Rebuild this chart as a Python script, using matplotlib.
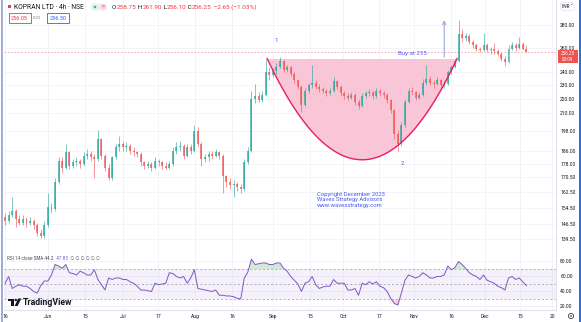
import numpy as np
import matplotlib.pyplot as plt
from matplotlib.patches import Rectangle, Polygon, Circle, FancyBboxPatch
from matplotlib.ticker import NullLocator

plt.rcParams['font.family'] = ['Roboto', 'DejaVu Sans']

# KOPRAN LTD, one bar per session, mid May -> mid Dec 2023
open_ = [150, 148, 151, 153, 149, 147, 149, 147, 148, 146,
         142, 141, 146, 155, 154, 168, 180, 176, 185, 177,
         179, 180, 178, 183, 184, 182, 181, 193, 183, 176,
         170, 182, 188, 190, 188, 189, 186, 185, 184, 179,
         177, 178, 176, 180, 179, 177, 176, 178, 186, 188,
         189, 183, 188, 186, 198, 190, 181, 182, 184, 183,
         185, 183, 171, 168, 166, 167, 165, 164, 179, 186,
         220, 222, 219, 223, 240, 238, 241, 244, 249, 242,
         244, 239, 234, 229, 216, 226, 230, 232, 229, 227,
         226, 224, 226, 233, 229, 224, 222, 221, 223, 218,
         215, 222, 224, 225, 222, 226, 224, 223, 219, 212,
         196, 190, 202, 218, 226, 225, 221, 223, 232, 235,
         232, 231, 234, 230, 231, 240, 244, 249, 272, 268,
         270, 265, 262, 259, 258, 262, 258, 259, 257, 255,
         251, 248, 259, 262, 260, 263, 258.75]
high = [152, 153, 160, 154, 151, 151, 150, 150, 149, 147,
        144, 148, 162, 157, 170, 182, 182, 190, 186, 181,
        182, 181, 185, 187, 186, 184, 199, 194, 184, 178,
        183, 190, 195, 192, 191, 190, 188, 186, 185, 180,
        180, 179, 182, 181, 180, 179, 180, 188, 191, 192,
        190, 190, 190, 202, 201, 191, 184, 186, 186, 187,
        186, 184, 172, 170, 169, 168, 167, 181, 188, 226,
        231, 225, 226, 251, 244, 243, 247, 252, 250, 246,
        245, 240, 235, 230, 228, 232, 246, 234, 231, 229,
        227, 228, 236, 234, 230, 226, 224, 225, 224, 220,
        224, 226, 227, 226, 228, 227, 226, 224, 220, 213,
        199, 204, 220, 228, 229, 226, 225, 235, 246, 237,
        234, 236, 235, 233, 242, 246, 251, 285, 276, 273,
        272, 267, 264, 261, 273, 264, 261, 264, 259, 256,
        253, 262, 265, 264, 269, 265, 261.90]
low = [146, 147, 150, 145, 146, 146, 145, 146, 144, 141,
       140, 140, 145, 152, 153, 167, 173, 175, 175, 176,
       177, 176, 177, 181, 180, 170, 180, 181, 174, 169,
       169, 181, 186, 186, 186, 184, 183, 182, 177, 175,
       176, 174, 175, 177, 175, 175, 175, 177, 184, 186,
       181, 182, 184, 185, 188, 177, 179, 180, 181, 182,
       181, 162, 165, 164, 160, 163, 162, 163, 178, 185,
       217, 218, 218, 222, 234, 236, 239, 243, 240, 240,
       237, 232, 227, 211, 215, 224, 228, 227, 225, 224,
       222, 223, 225, 227, 222, 220, 219, 220, 216, 213,
       214, 221, 222, 220, 221, 222, 221, 217, 210, 193,
       186, 189, 201, 217, 223, 219, 220, 222, 230, 230,
       228, 230, 228, 228, 230, 239, 243, 248, 265, 266,
       263, 260, 257, 256, 257, 256, 255, 255, 253, 249,
       245, 247, 258, 257, 259, 258, 256.10]
close = [148, 151, 153, 149, 147, 149, 147, 148, 146, 142,
         141, 146, 155, 154, 168, 180, 176, 185, 177, 179,
         180, 178, 183, 184, 182, 181, 193, 183, 176, 170,
         182, 188, 190, 188, 189, 186, 185, 184, 179, 177,
         178, 176, 180, 179, 177, 176, 178, 186, 188, 189,
         183, 188, 186, 198, 190, 181, 182, 184, 183, 185,
         183, 171, 168, 166, 167, 165, 164, 179, 186, 220,
         222, 219, 223, 240, 238, 241, 244, 249, 242, 244,
         239, 234, 229, 216, 226, 230, 232, 229, 227, 226,
         224, 226, 233, 229, 224, 222, 221, 223, 218, 215,
         222, 224, 225, 222, 226, 224, 223, 219, 212, 196,
         190, 202, 218, 226, 225, 221, 223, 232, 235, 232,
         231, 234, 230, 231, 240, 244, 249, 272, 268, 270,
         265, 262, 259, 258, 262, 258, 259, 257, 255, 251,
         248, 259, 262, 260, 263, 258.90, 256.25]
rsi = [51, 60, 44, 47, 49, 47, 47, 44, 40, 38,
       48, 54, 54, 62, 76, 74, 71, 76, 65, 64,
       62, 67, 65, 62, 62, 69, 56, 49, 42, 58,
       56, 58, 58, 56, 56, 53, 51, 47, 42, 42,
       41, 40, 51, 49, 50, 51, 65, 64, 60, 58,
       60, 51, 58, 69, 44, 43, 42, 41, 40, 42,
       35, 35, 34, 34, 33, 31, 30, 58, 66, 83,
       76, 77, 78, 78, 76, 76, 78, 78, 71, 67,
       60, 55, 50, 40, 51, 53, 60, 49, 44, 46,
       47, 47, 56, 51, 51, 51, 42, 42, 44, 35,
       51, 49, 53, 50, 53, 47, 45, 40, 31, 24,
       22, 38, 55, 62, 60, 58, 60, 65, 62, 58,
       58, 60, 60, 62, 74, 69, 72, 80, 76, 71,
       65, 62, 60, 56, 62, 55, 53, 51, 47, 45,
       42, 58, 60, 56, 58, 53, 47.83]

price_ticks = [280, 260, 240, 230, 220, 210, 198, 186, 178, 170.5, 162.5, 154.5, 146.5, 139.5]
rsi_ticks = [80, 60, 40, 20]
date_ticks = [0, 12, 22.4, 33.1, 42.9, 53.2, 63.6, 75.1, 85.4, 94.7, 104.8, 114.6, 124.9, 134.5, 144.3, 153.3]
date_labels = ['16', 'Jun', '15', 'Jul', '17', 'Aug', '16', 'Sep', '15', 'Oct', '17', 'Nov', '16', 'Dec', '15', '20']

last_price = 256.25
cup_left = (73.4, 251.0)
cup_bottom = (100.0, 180.5)
cup_right = (126.6, 251.0)
buy_price = 255
arrow_x, arrow_from, arrow_to = 123, 250, 287

UP, DOWN = '#26a69a', '#ef5350'
W, H = 581, 322

fig = plt.figure(figsize=(W / 100, H / 100), dpi=100)
ax = fig.add_axes([4 / W, 1 - 251 / H, 552 / W, 251 / H])
rax = fig.add_axes([4 / W, 1 - 310 / H, 552 / W, 59 / H], sharex=ax)

# --- price pane ---
o, h, l, c = map(np.array, (open_, high, low, close))
x = np.arange(len(c))
cols = np.where(c >= o, UP, DOWN)

ax.set_yscale('log')
ax.set_ylim(134.1, 303.7)
ax.set_xlim(-0.3, 154.3)

# rounded bottom drawn as a parabola in log-price
xs = np.linspace(cup_left[0], cup_right[0], 200)
lb, lt = np.log(cup_bottom[1]), np.log(cup_left[1])
half = (cup_right[0] - cup_left[0]) / 2
curve = np.exp(lb + (lt - lb) * ((xs - cup_bottom[0]) / half) ** 2)
ax.fill_between(xs, curve, cup_left[1], color='#f8c6d6', lw=0, zorder=1)
ax.plot(xs, curve, color='#e91e63', lw=1.0, zorder=4)

ax.vlines(x, l, h, colors=cols, lw=0.6, alpha=0.7, zorder=2)
body = np.maximum(np.abs(c - o), 0.4)
ax.bar(x, body, bottom=np.minimum(o, c), width=0.55, color=cols, lw=0, alpha=0.7, zorder=3)

ax.axhline(last_price, color='#f4a3a3', lw=0.6, ls=(0, (2, 2)), zorder=1)

ax.text(75.9, 265.8, '1', color='#2962ff', fontsize=4.4, ha='center', va='center')
ax.text(111.2, 178.6, '2', color='#2962ff', fontsize=4.4, ha='center', va='center')
ax.text(110.1, buy_price, 'Buy at 255', color='#5664f0', fontsize=4.4, ha='left', va='center')
ax.annotate('', xy=(arrow_x, arrow_to), xytext=(arrow_x, arrow_from),
            arrowprops=dict(arrowstyle='->', color='#9fa8da', lw=0.8, mutation_scale=6))
ax.text(87.4, 158.4, 'Copyright December 2023\nWaves Strategy Advisors\nwww.wavesstrategy.com',
        color='#4a5cf0', fontsize=4.2, ha='left', va='center', linespacing=1.05)

ax.yaxis.tick_right()
ax.set_yticks(price_ticks)
ax.set_yticklabels([f'{v:.2f}' for v in price_ticks])
ax.yaxis.set_minor_locator(NullLocator())
ax.tick_params(axis='y', length=0, pad=3, labelsize=3.6, labelcolor='#131722')
ax.set_xticks(date_ticks)
ax.tick_params(axis='x', length=0, labelbottom=False)
ax.grid(True, color='#f0f3fa', lw=0.6)
ax.set_axisbelow(True)
for s in ('top', 'left'):
    ax.spines[s].set_visible(False)
for s in ('right', 'bottom'):
    ax.spines[s].set_color('#e0e3eb')
    ax.spines[s].set_linewidth(0.8)

# --- RSI pane ---
r = np.array(rsi, dtype=float)
rax.set_ylim(15.3, 94)
rax.axhspan(30, 70, color='#7e57c2', alpha=0.08, lw=0)
for lvl in (70, 50, 30):
    rax.axhline(lvl, color='#9598a1', lw=0.5, ls=(0, (3, 3)))
rax.fill_between(x, r, 70, where=r > 70, interpolate=True, color='#4caf50', alpha=0.25, lw=0)
rax.fill_between(x, r, 30, where=r < 30, interpolate=True, color='#f23645', alpha=0.25, lw=0)
rax.plot(x, r, color='#7e57c2', lw=0.7)

rax.yaxis.tick_right()
rax.set_yticks(rsi_ticks)
rax.set_yticklabels([f'{v:.2f}' for v in rsi_ticks])
rax.tick_params(axis='y', length=0, pad=3, labelsize=3.6, labelcolor='#131722')
rax.set_xticks(date_ticks)
rax.set_xticklabels(date_labels)
rax.tick_params(axis='x', length=0, pad=3, labelsize=3.6, labelcolor='#131722')
rax.grid(True, color='#f0f3fa', lw=0.6)
rax.set_axisbelow(True)
for s in ('top', 'left'):
    rax.spines[s].set_visible(False)
for s in ('right', 'bottom'):
    rax.spines[s].set_color('#e0e3eb')
    rax.spines[s].set_linewidth(0.8)

# --- overlay in pixel units: header, labels, logo ---
ov = fig.add_axes([0, 0, 1, 1], zorder=10)
ov.set_xlim(0, W)
ov.set_ylim(H, 0)
ov.axis('off')
renderer = fig.canvas.get_renderer()


def row(x0, y0, parts, size, **kw):
    for s, col in parts:
        t = ov.text(x0, y0, s, color=col, fontsize=size, va='center', ha='left', **kw)
        x0 += t.get_window_extent(renderer).width
    return x0


ov.add_patch(Rectangle((1.2, 0), 2.2, H, color='#a3abd9', lw=0))
ov.add_patch(Rectangle((579.2, 0), 1.8, H, color='#2f6fd6', lw=0))

ov.add_patch(Rectangle((7.5, 5), 3, 3, color='#f23645', lw=0))
row(14, 7, [('KOPRAN LTD · 4h · NSE', '#131722')], 4.9)
ov.add_patch(FancyBboxPatch((91, 3.5), 16, 7, boxstyle='round,pad=0,rounding_size=3.5',
                            fc='#eef0f3', ec='none'))
ov.add_patch(Circle((95, 7), 2.8, fc='#d6f0eb', ec='none'))
ov.add_patch(Circle((95, 7), 1.1, fc='#26a69a', ec='none'))
ov.add_patch(Circle((103, 7), 2.8, fc='#fbd3d6', ec='none'))
ov.text(103, 7.2, '=', color='#f23645', fontsize=4.2, ha='center', va='center')
red = '#f23645'
row(112, 7, [('O', '#131722'), ('258.75', red), (' H', '#131722'), ('261.90', red),
             (' L', '#131722'), ('256.10', red), (' C', '#131722'), ('256.25', red),
             (' −2.65 (−1.03%)', red)], 4.6)

ov.text(19.5, 18, '256.05', color=red, fontsize=4.0, ha='center', va='center',
        bbox=dict(boxstyle='square,pad=0.45', fc='white', ec=red, lw=0.6))
ov.text(36.5, 18, '0.25', color='#787b86', fontsize=3.0, ha='center', va='center')
ov.text(58, 18, '256.30', color='#2962ff', fontsize=4.0, ha='center', va='center',
        bbox=dict(boxstyle='square,pad=0.45', fc='white', ec='#2962ff', lw=0.6))

ov.text(567.5, 6.5, 'INR ˅', color='#131722', fontsize=3.4, ha='center', va='center',
        bbox=dict(boxstyle='round,pad=0.35,rounding_size=0.8', fc='white', ec='#e0e3eb', lw=0.5))

# last-price tag sits just under the 260 label
ov.add_patch(Rectangle((557.5, 49.5), 20.5, 13.5, color='#ef5350', lw=0))
ov.text(567.7, 53.2, '256.25', color='white', fontsize=3.3, ha='center', va='center')
ov.text(567.7, 59.3, '03:09', color='white', fontsize=3.3, ha='center', va='center')

row(7, 259, [('RSI 14 close SMA 44.2', '#4a4d57'), ('  47.83', '#7e57c2'),
             ('  ∅ ∅ ∅ ∅ ∅ ∅', '#4a4d57')], 3.3)

# TradingView mark
ov.add_patch(Polygon([(8, 298.5), (14, 298.5), (14, 306), (11.3, 306), (11.3, 301), (8, 301)],
                     closed=True, fc='#131722', ec='none'))
ov.add_patch(Circle((15.8, 300), 1.2, fc='#131722', ec='none'))
ov.add_patch(Polygon([(18.2, 298.5), (21.3, 298.5), (17.6, 306), (14.6, 306)],
                     closed=True, fc='#131722', ec='none'))
ov.text(23, 302.5, 'TradingView', color='#131722', fontsize=6.3, fontweight='bold',
        ha='left', va='center')

ov.add_patch(Circle((571, 316), 2.6, fc='white', ec='#131722', lw=0.5))
ov.add_patch(Circle((571, 316), 0.8, fc='#131722', ec='none'))

fig.savefig('out.png', dpi=100)
